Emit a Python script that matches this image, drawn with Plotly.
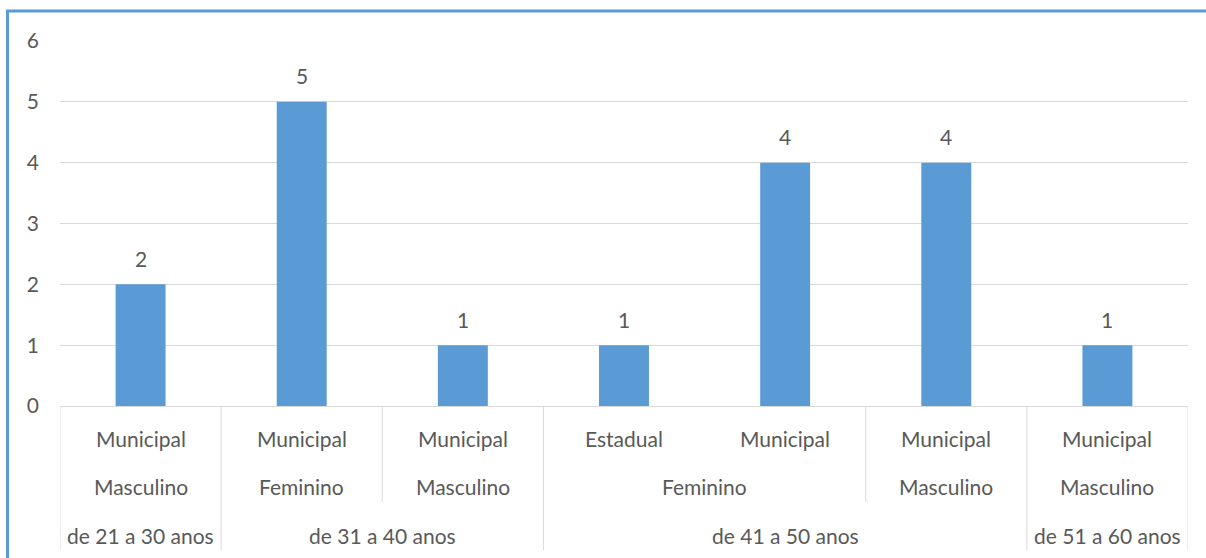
import plotly.graph_objects as go

# ---- data ----
esfera = ["Municipal", "Municipal", "Municipal", "Estadual", "Municipal", "Municipal", "Municipal"]
genero = ["Masculino", "Feminino", "Masculino", "Feminino", "Feminino", "Masculino", "Masculino"]
idade = ["de 21 a 30 anos", "de 31 a 40 anos", "de 31 a 40 anos", "de 41 a 50 anos",
         "de 41 a 50 anos", "de 41 a 50 anos", "de 51 a 60 anos"]
valores = [2, 5, 1, 1, 4, 4, 1]
y_ticks = [0, 1, 2, 3, 4, 5, 6]

W, H = 1206, 558
L, R, T, B = 60, 18, 41, 152
pw, ph = W - L - R, H - T - B

def px_x(px):
    return (px - L) / pw

def px_y(py):
    return (H - B - py) / ph

TXT = "#595959"
FONT = "Lato"
FS = 21
x = list(range(len(valores)))

fig = go.Figure()
fig.add_trace(go.Bar(
    x=x, y=valores, marker=dict(color="#5B9BD5", line=dict(width=0)),
    width=0.31, hoverinfo="skip",
))

annotations = []
shapes = []

# data labels
for i, v in zip(x, valores):
    annotations.append(dict(x=i, y=v, xref="x", yref="y", text=str(v), showarrow=False,
                            yanchor="middle", yshift=26,
                            font=dict(family=FONT, size=FS, color=TXT)))

# group runs
def runs(keys):
    out = []
    start = 0
    for i in range(1, len(keys) + 1):
        if i == len(keys) or keys[i] != keys[start]:
            out.append((start, i - 1))
            start = i
    return out

lvl1_y = px_y(438)
lvl2_y = px_y(486)
lvl3_y = px_y(535)

def lab(xv, yv, t):
    return dict(x=xv, y=yv, xref="x", yref="paper", text=t, showarrow=False,
                xanchor="center", yanchor="middle",
                font=dict(family=FONT, size=FS, color=TXT))

for i, e in enumerate(esfera):
    annotations.append(lab(i, lvl1_y, e))
g_keys = [(idade[i], genero[i]) for i in x]
for s, e in runs(g_keys):
    annotations.append(lab((s + e) / 2, lvl2_y, genero[s]))
age_runs = runs(idade)
for s, e in age_runs:
    annotations.append(lab((s + e) / 2, lvl3_y, idade[s]))

# dividers
full_bounds = set([-0.5] + [e + 0.5 for s, e in age_runs])
part_bounds = set(e + 0.5 for s, e in runs(g_keys)) - full_bounds
for b in full_bounds:
    shapes.append(dict(type="line", xref="x", yref="paper", x0=b, x1=b, y0=0, y1=px_y(550),
                       line=dict(color="#D9D9D9", width=1)))
for b in part_bounds:
    shapes.append(dict(type="line", xref="x", yref="paper", x0=b, x1=b, y0=0, y1=px_y(502),
                       line=dict(color="#D9D9D9", width=1)))

# blue chart border (top and left)
shapes.append(dict(type="line", xref="paper", yref="paper", x0=px_x(6), x1=px_x(1210),
                   y0=px_y(11), y1=px_y(11), line=dict(color="#5B9BD5", width=3)))
shapes.append(dict(type="line", xref="paper", yref="paper", x0=px_x(7.5), x1=px_x(7.5),
                   y0=px_y(11), y1=px_y(562), line=dict(color="#5B9BD5", width=3)))

fig.update_layout(
    width=W, height=H, margin=dict(l=L, r=R, t=T, b=B),
    paper_bgcolor="white", plot_bgcolor="white", showlegend=False,
    annotations=annotations, shapes=shapes,
    xaxis=dict(range=[-0.5, 6.5], showticklabels=False, showgrid=False, zeroline=False,
               showline=True, linecolor="#D9D9D9", linewidth=1, ticks=""),
    yaxis=dict(range=[0, 6], tickvals=y_ticks, showgrid=True, gridcolor="#D9D9D9", gridwidth=1,
               zeroline=False, showline=False, ticks="", ticklabelstandoff=20,
               tickfont=dict(family=FONT, size=FS, color=TXT)),
)

fig.write_html("out.html", config={"displayModeBar": False},
               post_script="document.body.style.margin='0';document.body.style.overflow='hidden';")
